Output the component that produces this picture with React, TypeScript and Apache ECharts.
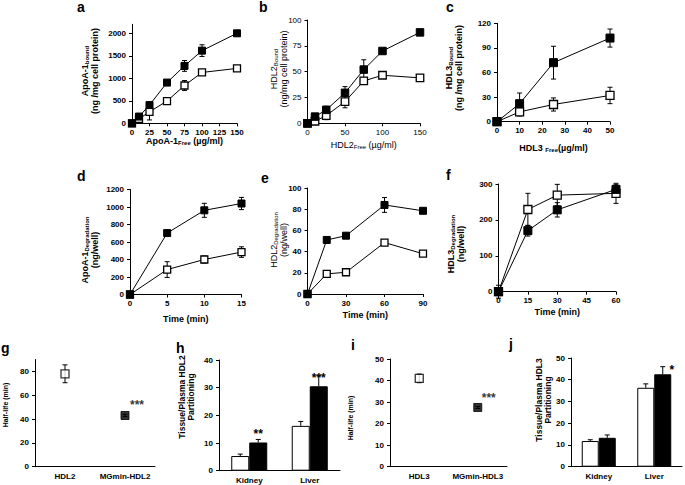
import React, { useEffect, useRef } from "react";
import * as echarts from "echarts";

const FONT = "'Liberation Sans', Arial, Helvetica, sans-serif";

// ---------- panel a : ApoA-1 binding ----------
const aConc = [0, 10, 25, 50, 75, 100, 150];
const aModified = [0, 150, 405, 905, 1275, 1615, 2000];
const aModifiedErr = [0, 30, 40, 30, 120, 130, 20];
const aNative = [0, 100, 255, 495, 840, 1130, 1220];
const aNativeErr = [0, 0, 180, 20, 110, 40, 30];
const aYTicks = [0, 500, 1000, 1500, 2000];
// ---------- panel b : HDL2 binding ----------
const bConc = [0, 10, 25, 50, 75, 100, 150];
const bModified = [0, 6.5, 13, 29.5, 52, 70, 88];
const bModifiedErr = [0, 1, 3.5, 6, 9.5, 1, 1];
const bNative = [0, 2, 7.5, 21, 41, 46.5, 44];
const bNativeErr = [0, 1, 4, 6, 3, 1, 1];
// ---------- panel c : HDL3 binding ----------
const cConc = [0, 10, 25, 50];
const cModified = [0, 22, 72, 102];
const cModifiedErr = [0, 13, 20, 11];
const cNative = [0, 12, 21, 32];
const cNativeErr = [0, 5, 8, 10];
// ---------- panel d : ApoA-1 degradation ----------
const dTime = [0, 5, 10, 15];
const dModified = [0, 702, 962, 1040];
const dModifiedErr = [0, 10, 80, 70];
const dNative = [0, 285, 400, 485];
const dNativeErr = [0, 90, 40, 60];
// ---------- panel e : HDL2 degradation ----------
const eTime = [0, 15, 30, 60, 90];
const eModified = [0, 51, 55, 84, 78.5];
const eModifiedErr = [0, 1, 1, 7, 1];
const eNative = [0, 19, 20.5, 48.5, 38];
const eNativeErr = [0, 1, 1, 1, 1];
// ---------- panel f : HDL3 degradation ----------
const fTime = [0, 15, 30, 60];
const fModified = [0, 170, 228, 285];
const fModifiedErr = [0, 15, 20, 13];
const fNative = [0, 229, 269, 274];
const fNativeErr = [18, 45, 30, 28];
// ---------- panel g : HDL2 half-life ----------
const gCats = ["HDL2", "MGmin-HDL2"];
const gHalfLife = [78, 43];
const gHalfLifeErr = [7.5, 1];
const gStars = ["", "***"];
const gYTicks = [0, 20, 40, 60, 80];
// ---------- panel h : HDL2 partitioning ----------
const hCats = ["Kidney", "Liver"];
const hNative = [5.3, 16.2];
const hNativeErr = [0.7, 1.6];
const hModified = [10.2, 30.5];
const hModifiedErr = [1.1, 3.8];
const hStars = ["**", "***"];
// ---------- panel i : HDL3 half-life ----------
const iCats = ["HDL3", "MGmin-HDL3"];
const iHalfLife = [41, 27.5];
const iHalfLifeErr = [2, 0.5];
const iStars = ["", "***"];
// ---------- panel j : HDL3 partitioning ----------
const jCats = ["Kidney", "Liver"];
const jNative = [11.8, 36.3];
const jNativeErr = [0.6, 1.8];
const jModified = [13.3, 42.5];
const jModifiedErr = [1.3, 3.5];
const jStars = ["", "*"];

// ---------- y-axis titles ----------
const yTitles: Record<string, string> = {
  a: "ApoA-1{s|bound}\n(ng /mg cell protein)",
  b: "HDL2{s|Bound}\n(ng/mg cell protein)",
  c: "HDL3{s|Bound}\n(ng /mg cell protein)",
  d: "ApoA-1{s|Degradation}\n(ng/well)",
  e: "HDL2{s|Degradation}\n(ng/well)",
  f: "HDL3{s|Degradation}\n(ng/well)",
  g: "Half-life (min)",
  h: "Tissue/Plasma HDL2\nPartitioning",
  i: "Half-life (min)",
  j: "Tissue/Plasma HDL3\nPartitioning",
};

// ---------- layout (pixels) ----------
const L: Record<string, { x0: number; x1: number; yb: number; yt: number }> = {
  a: { x0: 132, x1: 237, yb: 123.3, yt: 24.3 },
  b: { x0: 307.5, x1: 420, yb: 123.3, yt: 20 },
  c: { x0: 497, x1: 610, yb: 121.7, yt: 23.3 },
  d: { x0: 130, x1: 241.5, yb: 294.5, yt: 189.5 },
  e: { x0: 307.5, x1: 423, yb: 294, yt: 188 },
  f: { x0: 498.5, x1: 616, yb: 291.7, yt: 184 },
  g: { x0: 35, x1: 155, yb: 466.7, yt: 359.5 },
  h: { x0: 219, x1: 340, yb: 470.7, yt: 360 },
  i: { x0: 390, x1: 507, yb: 466.7, yt: 359 },
  j: { x0: 571, x1: 682, yb: 466.7, yt: 358 },
};
const ORDER = ["a", "b", "c", "d", "e", "f", "g", "h", "i", "j"];
// y-title block centre, font size, bold
const YT: Record<string, [number, number, number, boolean]> = {
  a: [90, 71, 9, true],
  b: [279, 69, 9, false],
  c: [454, 68, 9, true],
  d: [89.5, 250, 9, true],
  e: [278.5, 240, 9, false],
  f: [455.5, 244, 9, true],
  g: [5.5, 405, 7, true],
  h: [186.5, 397, 8.5, true],
  i: [350, 418, 7, true],
  j: [543.5, 400, 8.5, true],
};
const letters: Record<string, [number, number]> = {
  a: [77, 0], b: [259, 0], c: [446, 0],
  d: [77, 169], e: [261, 171], f: [446, 168],
  g: [1, 341], h: [176, 341], i: [351, 338], j: [509, 337],
};

const filledStyle = { color: "#000", borderColor: "#000", borderWidth: 1 };
const openStyle = { color: "#fff", borderColor: "#000", borderWidth: 1.3 };

const zip = (...arrs: number[][]) => arrs[0].map((_, i) => arrs.map((a) => a[i]));

function labelStyle(bold = true) {
  return {
    color: "#000",
    fontSize: 8,
    fontWeight: bold ? "bold" : "normal",
    fontFamily: FONT,
    formatter: (v: any) => String(v),
  };
}

function richSub(bold: boolean, size: number) {
  return {
    s: {
      fontSize: Math.round(size * 0.68),
      fontWeight: bold ? "bold" : "normal",
      fontFamily: FONT,
      fill: "#000",
      color: "#000",
      verticalAlign: "bottom",
      lineHeight: size + 1,
    },
  };
}

function nameStyle(bold: boolean, size: number) {
  return {
    color: "#000",
    fontSize: size,
    fontWeight: bold ? "bold" : "normal",
    fontFamily: FONT,
    lineHeight: size + 1,
    rich: richSub(bold, size),
  };
}

const axisLine = { show: true, onZero: false, lineStyle: { color: "#000", width: 1 } };
const axisTick = { show: true, length: 3, lineStyle: { color: "#000", width: 1 } };

function xVal(gi: number, max: number, interval: number, name: string, gap: number, bold = true) {
  return {
    type: "value",
    gridIndex: gi,
    min: 0,
    max,
    interval,
    name,
    nameLocation: "middle",
    nameGap: gap,
    nameMoveOverlap: false,
    nameTextStyle: nameStyle(bold, 9),
    axisLine,
    axisTick,
    axisLabel: { ...labelStyle(bold), margin: 5 },
    splitLine: { show: false },
  };
}

function yVal(gi: number, max: number, interval: number, opts: { bold?: boolean; ticks?: number[] } = {}) {
  const bold = opts.bold !== false;
  const ax: any = {
    type: "value",
    gridIndex: gi,
    min: 0,
    max,
    interval,
    axisLine,
    axisTick: { ...axisTick },
    axisLabel: { ...labelStyle(bold), margin: 6 },
    splitLine: { show: false },
  };
  if (opts.ticks) {
    ax.axisTick.customValues = opts.ticks;
    ax.axisLabel.customValues = opts.ticks;
  }
  return ax;
}

function xCat(gi: number, cats: string[]) {
  return {
    type: "category",
    gridIndex: gi,
    data: cats,
    boundaryGap: true,
    axisLine,
    axisTick: { show: false },
    axisLabel: { color: "#000", fontSize: 8, fontWeight: "bold", fontFamily: FONT, margin: 6, interval: 0 },
    splitLine: { show: false },
  };
}

function errSeries(gi: number, data: number[][], opts: { upOnly?: boolean; offset?: number; cap?: number } = {}) {
  const cap = opts.cap ?? 2.5;
  const off = opts.offset ?? 0;
  return {
    type: "custom",
    xAxisIndex: gi,
    yAxisIndex: gi,
    z: 1,
    silent: true,
    encode: { x: 0, y: 1 },
    data,
    renderItem: (_p: any, api: any) => {
      const x = api.value(0);
      const y = api.value(1);
      const e = api.value(2);
      if (!e) return null;
      const lo = api.coord([x, opts.upOnly ? y : y - e]);
      const hi = api.coord([x, y + e]);
      const px = lo[0] + off;
      const st = { stroke: "#000", lineWidth: 1 };
      const children: any[] = [
        { type: "line", shape: { x1: px, y1: lo[1], x2: px, y2: hi[1] }, style: st },
        { type: "line", shape: { x1: px - cap, y1: hi[1], x2: px + cap, y2: hi[1] }, style: st },
      ];
      if (!opts.upOnly)
        children.push({ type: "line", shape: { x1: px - cap, y1: lo[1], x2: px + cap, y2: lo[1] }, style: st });
      return { type: "group", children };
    },
  };
}

function lineSeries(gi: number, xs: number[], ys: number[], filled: boolean, size: number) {
  return {
    type: "line",
    xAxisIndex: gi,
    yAxisIndex: gi,
    data: zip(xs, ys),
    symbol: "rect",
    symbolSize: size,
    showAllSymbol: true,
    z: filled ? 4 : 3,
    lineStyle: { color: "#000", width: 1 },
    itemStyle: filled ? filledStyle : openStyle,
  };
}

function linePanel(gi: number, xs: number[], mod: number[], modErr: number[], nat: number[], natErr: number[], size: number) {
  return [
    errSeries(gi, zip(xs, nat, natErr)),
    errSeries(gi, zip(xs, mod, modErr)),
    lineSeries(gi, xs, nat, false, size),
    lineSeries(gi, xs, mod, true, size),
  ];
}

function pointPanel(gi: number, vals: number[], errs: number[], stars: string[], starOffset: number[]) {
  const idx = vals.map((_, i) => i);
  return [
    errSeries(gi, zip(idx, vals, errs)),
    {
      type: "scatter",
      xAxisIndex: gi,
      yAxisIndex: gi,
      symbol: "rect",
      symbolSize: 8,
      z: 3,
      data: vals.map((v, i) => ({
        value: [i, v],
        itemStyle: i === 0 ? openStyle : filledStyle,
        label: {
          show: !!stars[i],
          formatter: stars[i],
          position: "top",
          offset: starOffset,
          color: "#000",
          fontSize: 12,
          fontWeight: "bold",
          fontFamily: FONT,
        },
      })),
    },
  ];
}

function barPanel(
  gi: number,
  nat: number[],
  natErr: number[],
  mod: number[],
  modErr: number[],
  stars: string[],
  bw: number,
  starOffset: number[]
) {
  const idx = nat.map((_, i) => i);
  return [
    {
      type: "bar",
      xAxisIndex: gi,
      yAxisIndex: gi,
      data: nat,
      barWidth: bw,
      barGap: "0%",
      z: 2,
      itemStyle: { color: "#fff", borderColor: "#000", borderWidth: 1 },
    },
    {
      type: "bar",
      xAxisIndex: gi,
      yAxisIndex: gi,
      barWidth: bw,
      barGap: "0%",
      z: 2,
      itemStyle: { color: "#000", borderColor: "#000", borderWidth: 1 },
      data: mod.map((v, i) => ({
        value: v,
        label: {
          show: !!stars[i],
          formatter: stars[i],
          position: "top",
          distance: 0,
          offset: starOffset,
          color: "#000",
          fontSize: 12,
          fontWeight: "bold",
          fontFamily: FONT,
        },
      })),
    },
    errSeries(gi, zip(idx, nat, natErr), { upOnly: true, offset: -bw / 2, cap: 2.5 }),
    errSeries(gi, zip(idx, mod, modErr), { upOnly: true, offset: bw / 2, cap: 2.5 }),
  ];
}

export default function App() {
  const ref = useRef<HTMLDivElement>(null);
  useEffect(() => {
    document.body.style.margin = "0";
    if (!ref.current) return;
    const chart = echarts.init(ref.current, undefined, { renderer: "svg" });
    const grid = ORDER.map((k) => ({
      left: L[k].x0,
      top: L[k].yt,
      width: L[k].x1 - L[k].x0,
      height: L[k].yb - L[k].yt,
      containLabel: false,
    }));
    const xAxis = [
      xVal(0, 150, 25, "ApoA-1{s|Free} (µg/ml)", 13),
      xVal(1, 150, 50, "HDL2{s|Free} (µg/ml)", 17, false),
      xVal(2, 50, 10, "HDL3 {s|Free}(µg/ml)", 21),
      xVal(3, 15, 5, "Time (min)", 19),
      xVal(4, 90, 30, "Time (min)", 16),
      xVal(5, 60, 15, "Time (min)", 15),
      xCat(6, gCats),
      xCat(7, hCats),
      xCat(8, iCats),
      xCat(9, jCats),
    ];
    const yAxis = [
      yVal(0, 2200, 500, { ticks: aYTicks }),
      yVal(1, 100, 25, { bold: false }),
      yVal(2, 120, 30),
      yVal(3, 1200, 200),
      yVal(4, 100, 20),
      yVal(5, 300, 100),
      yVal(6, 90, 20, { ticks: gYTicks }),
      yVal(7, 40, 10),
      yVal(8, 50, 10),
      yVal(9, 50, 10),
    ];
    const series = [
      ...linePanel(0, aConc, aModified, aModifiedErr, aNative, aNativeErr, 7),
      ...linePanel(1, bConc, bModified, bModifiedErr, bNative, bNativeErr, 7.5),
      ...linePanel(2, cConc, cModified, cModifiedErr, cNative, cNativeErr, 8),
      ...linePanel(3, dTime, dModified, dModifiedErr, dNative, dNativeErr, 7),
      ...linePanel(4, eTime, eModified, eModifiedErr, eNative, eNativeErr, 7),
      ...linePanel(5, fTime, fModified, fModifiedErr, fNative, fNativeErr, 8),
      ...pointPanel(6, gHalfLife, gHalfLifeErr, gStars, [12, 5]),
      ...barPanel(7, hNative, hNativeErr, hModified, hModifiedErr, hStars, 18, [0, -2]),
      ...pointPanel(8, iHalfLife, iHalfLifeErr, iStars, [11, 6]),
      ...barPanel(9, jNative, jNativeErr, jModified, jModifiedErr, jStars, 17, [9, 2]),
    ];
    const graphic: any[] = ORDER.map((k) => ({
      type: "text",
      x: letters[k][0],
      y: letters[k][1],
      style: { text: k, fill: "#000", font: `bold 14px ${FONT}` },
    }));
    ORDER.forEach((k) => {
      const [cx, cy, size, bold] = YT[k];
      graphic.push({
        type: "text",
        x: cx,
        y: cy,
        rotation: Math.PI / 2,
        style: {
          text: yTitles[k],
          fill: "#000",
          fontSize: size,
          fontWeight: bold ? "bold" : "normal",
          fontFamily: FONT,
          lineHeight: size + 1,
          align: "center",
          verticalAlign: "middle",
          rich: richSub(bold, size),
        },
      });
    });
    chart.setOption({
      animation: false,
      backgroundColor: "#fff",
      grid,
      xAxis,
      yAxis,
      series,
      graphic,
    });
    return () => chart.dispose();
  }, []);
  return <div ref={ref} style={{ width: 685, height: 485 }} />;
}
